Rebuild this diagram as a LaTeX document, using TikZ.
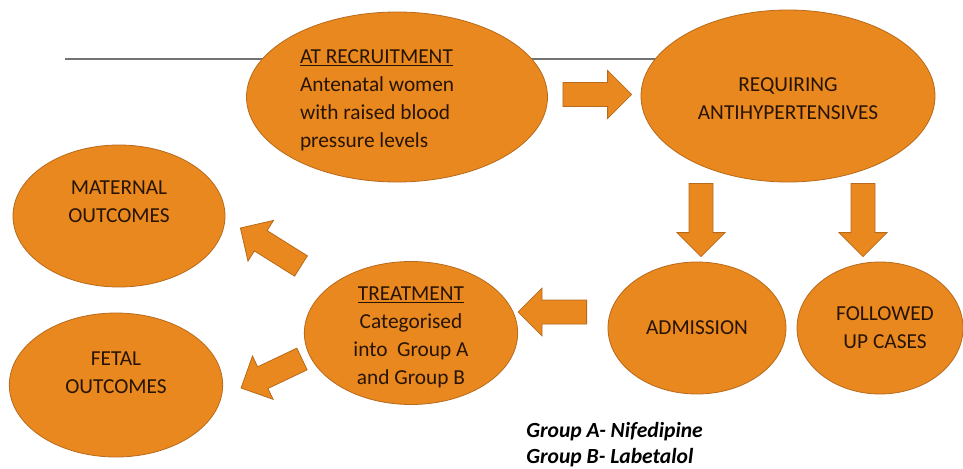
\documentclass[tikz,border=0pt]{standalone}
\usepackage{fontspec}
\setmainfont{Carlito}
\usepackage{tikz}
\usetikzlibrary{shapes.geometric,calc}
\definecolor{orng}{RGB}{232,136,30}
\definecolor{rim}{RGB}{184,106,28}
\definecolor{ink}{RGB}{40,20,5}
\tikzstyle{ball} = [draw=rim, fill=orng, ellipse, inner sep=0pt, line width=0.6pt]
\tikzstyle{txt} = [text=ink, align=center, inner sep=0pt, font=\fontsize{16}{21}\selectfont]
\tikzstyle{note} = [align=flush left, inner sep=0pt, font=\fontsize{16.2}{19.5}\selectfont\bfseries\itshape]
\tikzstyle{fat} = [draw=rim, fill=orng, line width=0.6pt,
  to path={let \p1=(\tikztostart), \p2=(\tikztotarget),
    \n1={atan2(\y2-\y1,\x2-\x1)}, \n2={veclen(\x2-\x1,\y2-\y1)} in
    {[shift={(\p1)}, rotate=\n1]
      (0pt,-9pt) -- ({\n2-18pt},-9pt) -- ({\n2-18pt},-18pt) -- ({\n2*1pt},0pt)
      -- ({\n2-18pt},18pt) -- ({\n2-18pt},9pt) -- (0pt,9pt) -- cycle}
    (\tikztotarget)}]

\begin{document}
\begin{tikzpicture}[x=0.75pt,y=-0.75pt]
  \useasboundingbox (0,0) rectangle (963,468);

  % rule behind the top row
  \coordinate (ls) at (65,59);
  \coordinate (le) at (657,59);
  \draw[line width=0.8pt, black!55] (ls) -- (le);

  \node[ball, minimum width=225.75pt, minimum height=127.5pt,
    label={[txt, align=flush left, text width=120pt, xshift=-12.75pt, yshift=-2.6pt]center:\underline{AT RECRUITMENT}\\Antenatal women\\with raised blood\\pressure levels}] (rec) at (397,97) {};
  \node[ball, minimum width=220.5pt, minimum height=129pt,
    label={[txt, yshift=-2pt]center:REQUIRING\\ANTIHYPERTENSIVES}] (req) at (788,96) {};
  \node[ball, minimum width=133.5pt, minimum height=99pt,
    label={[txt]center:ADMISSION}] (adm) at (697,328) {};
  \node[ball, minimum width=124.5pt, minimum height=99pt,
    label={[txt, xshift=3.75pt]center:FOLLOWED\\UP CASES}] (fol) at (880,328) {};
  \node[ball, minimum width=160pt, minimum height=107.25pt,
    label={[txt, yshift=-3pt]center:\underline{TREATMENT}\\Categorised\\into~ Group A\\and Group B}] (trt) at (411,333) {};
  \node[ball, minimum width=159pt, minimum height=106.5pt,
    label={[txt, yshift=10.5pt]center:MATERNAL\\OUTCOMES}] (mat) at (119,216) {};
  \node[ball, minimum width=160pt, minimum height=108pt,
    label={[txt, yshift=9pt]center:FETAL\\OUTCOMES}] (fet) at (116,385) {};

  % block arrows
  \draw[fat] ($(rec.east)+(15,-2.5)$) to ($(req.west)+(-9,-1.5)$);
  \draw[fat] ($(req.south)+(-87,1)$) to ($(adm.north)+(4,-5)$);
  \draw[fat] ($(req.south)+(75,1)$) to ($(fol.north)+(-17,-5)$);
  \draw[fat] ($(adm.west)+(-21,-16)$) to ($(trt.east)+(0,-21)$);
  \draw[fat] ($(trt)+(-110,-67)$) to ($(mat.east)+(15,12)$);
  \draw[fat] ($(trt)+(-109,26)$) to ($(fet.east)+(18,3)$);

  \node[note, anchor=base west] (grp) at (526,463) {Group A- Nifedipine\\Group B- Labetalol};

\end{tikzpicture}
\end{document}
